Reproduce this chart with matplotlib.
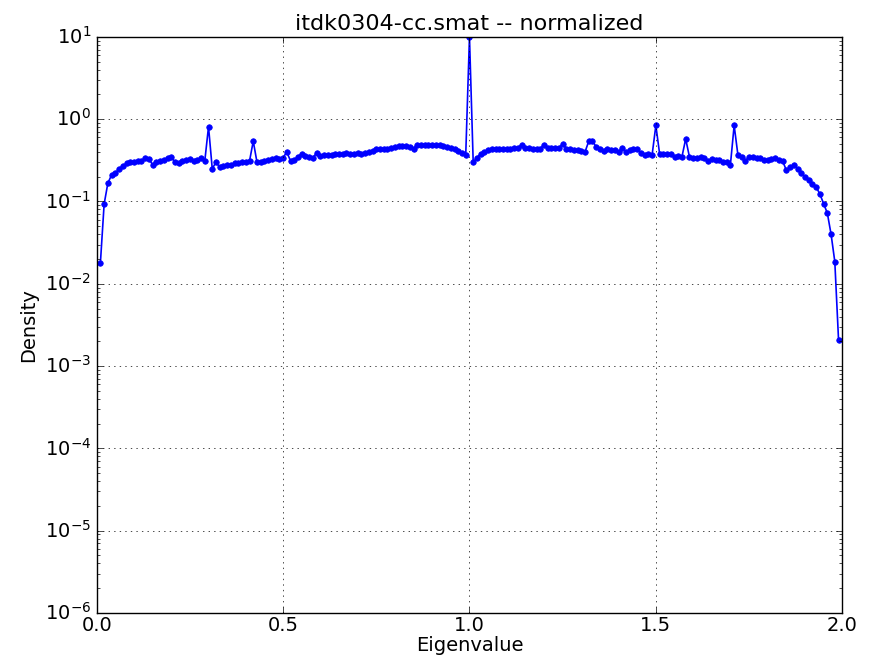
import numpy as np
import matplotlib
matplotlib.use("Agg")
import matplotlib.pyplot as plt

# eigenvalue bins (0.01 .. 1.99) and normalized density
eigenvalues = [round(0.01 * i, 2) for i in range(1, 200)]

density = [
    0.018, 0.093, 0.167, 0.21, 0.22, 0.25, 0.27, 0.29, 0.30, 0.30,     # 0.01-0.10
    0.31, 0.31, 0.34, 0.33, 0.28, 0.30, 0.31, 0.32, 0.34, 0.35,        # 0.11-0.20
    0.30, 0.29, 0.31, 0.32, 0.33, 0.31, 0.32, 0.34, 0.31, 0.81,        # 0.21-0.30
    0.25, 0.30, 0.26, 0.27, 0.28, 0.28, 0.29, 0.29, 0.30, 0.30,        # 0.31-0.40
    0.31, 0.54, 0.30, 0.30, 0.31, 0.32, 0.33, 0.34, 0.33, 0.34,        # 0.41-0.50
    0.40, 0.31, 0.32, 0.35, 0.38, 0.36, 0.35, 0.34, 0.39, 0.36,        # 0.51-0.60
    0.37, 0.37, 0.37, 0.38, 0.38, 0.38, 0.39, 0.38, 0.38, 0.39,        # 0.61-0.70
    0.38, 0.39, 0.40, 0.41, 0.43, 0.43, 0.43, 0.44, 0.45, 0.46,        # 0.71-0.80
    0.47, 0.47, 0.47, 0.46, 0.44, 0.49, 0.49, 0.49, 0.49, 0.49,        # 0.81-0.90
    0.49, 0.48, 0.47, 0.46, 0.45, 0.43, 0.41, 0.39, 0.37, 10.0,        # 0.91-1.00
    0.30, 0.34, 0.38, 0.40, 0.42, 0.44, 0.44, 0.44, 0.43, 0.43,        # 1.01-1.10
    0.44, 0.45, 0.45, 0.49, 0.45, 0.45, 0.44, 0.44, 0.44, 0.49,        # 1.11-1.20
    0.45, 0.45, 0.45, 0.45, 0.50, 0.44, 0.43, 0.42, 0.42, 0.41,        # 1.21-1.30
    0.40, 0.54, 0.54, 0.46, 0.43, 0.41, 0.43, 0.42, 0.42, 0.40,        # 1.31-1.40
    0.45, 0.40, 0.42, 0.43, 0.43, 0.39, 0.37, 0.38, 0.37, 0.84,        # 1.41-1.50
    0.38, 0.38, 0.38, 0.38, 0.35, 0.36, 0.35, 0.575, 0.35, 0.34,       # 1.51-1.60
    0.34, 0.35, 0.34, 0.31, 0.33, 0.32, 0.32, 0.30, 0.30, 0.28,        # 1.61-1.70
    0.84, 0.37, 0.35, 0.31, 0.35, 0.35, 0.34, 0.34, 0.32, 0.32,        # 1.71-1.80
    0.33, 0.34, 0.32, 0.31, 0.24, 0.26, 0.28, 0.25, 0.22, 0.20,        # 1.81-1.90
    0.18, 0.165, 0.15, 0.123, 0.094, 0.072, 0.040, 0.0186, 0.0021,     # 1.91-1.99
]

plt.style.use("classic")
fig = plt.figure(figsize=(8.71, 6.63), dpi=100, facecolor="white")
ax = fig.add_axes([0.111, 0.0754, 0.856, 0.869])

ax.semilogy(eigenvalues, density, "b.-", markersize=8, linewidth=1.2)

ax.set_xlim(0.0, 2.0)
ax.set_ylim(1e-6, 1e1)
ax.set_xticks([0.0, 0.5, 1.0, 1.5, 2.0])
ax.grid(True)
ax.tick_params(labelsize=14)
ax.tick_params(axis="x", pad=2)

ax.set_title("itdk0304-cc.smat -- normalized", fontsize=16)
ax.set_xlabel("Eigenvalue", fontsize=14, labelpad=1)
ax.set_ylabel("Density", fontsize=14)

fig.savefig("out.png", dpi=100, facecolor="white")
